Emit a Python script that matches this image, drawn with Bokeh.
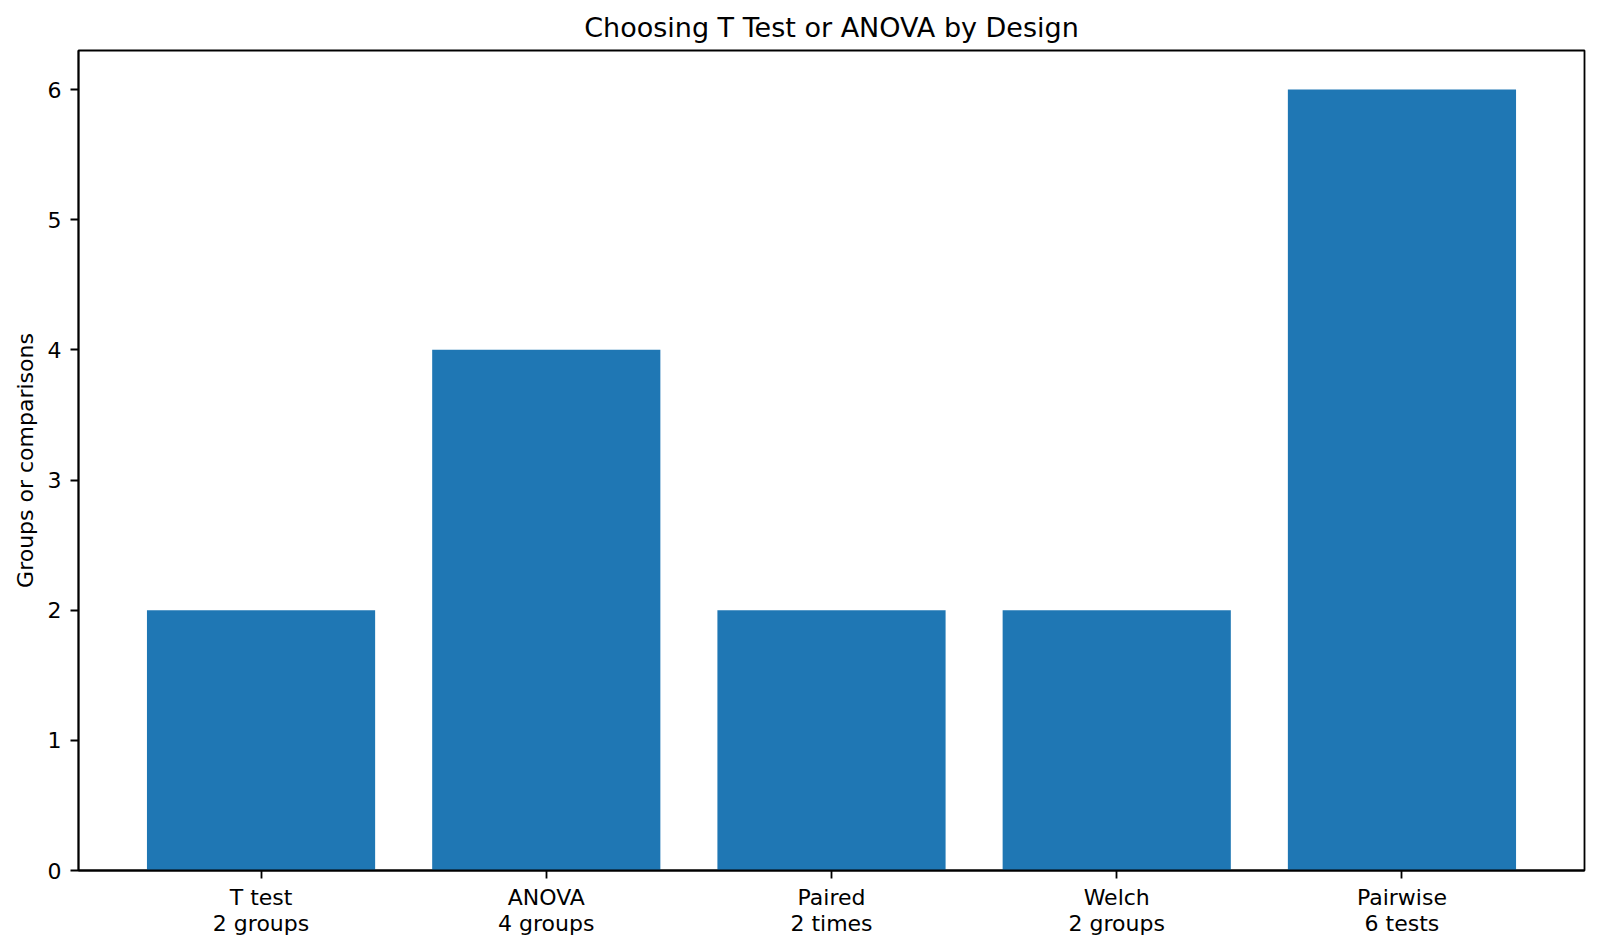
from bokeh.plotting import figure
from bokeh.models import Range1d, FixedTicker, ColumnDataSource
from bokeh.embed import file_html
from bokeh.resources import INLINE

categories = ["T test\n2 groups", "ANOVA\n4 groups", "Paired\n2 times", "Welch\n2 groups", "Pairwise\n6 tests"]
values = [2, 4, 2, 2, 6]
y_ticks = [0, 1, 2, 3, 4, 5, 6]

xs = list(range(len(categories)))
src = ColumnDataSource(dict(x=xs, top=values))

FONT = "DejaVu Sans"

p = figure(width=1600, height=951, output_backend="svg", toolbar_location=None,
           x_range=Range1d(-0.64, len(categories) - 1 + 0.64), y_range=Range1d(0, 6.3),
           min_border_left=78, min_border_right=16, min_border_top=50, min_border_bottom=81,
           title="Choosing T Test or ANOVA by Design")

p.vbar(x="x", top="top", width=0.8, source=src, fill_color="#1f77b4", line_color=None)

p.title.align = "center"
p.title.text_font = FONT
p.title.text_font_size = "27px"
p.title.text_font_style = "normal"
p.title.text_color = "black"
p.title.standoff = 15

p.xgrid.visible = False
p.ygrid.visible = False
p.outline_line_color = "black"
p.outline_line_width = 1.8
p.background_fill_color = "white"
p.border_fill_color = "white"

p.xaxis.ticker = FixedTicker(ticks=xs)
p.xaxis.major_label_overrides = {i: c for i, c in enumerate(categories)}
p.yaxis.ticker = FixedTicker(ticks=y_ticks)
p.yaxis.axis_label = "Groups or comparisons"

for ax in (p.xaxis[0], p.yaxis[0]):
    ax.axis_line_color = "black"
    ax.axis_line_width = 1.8
    ax.major_tick_line_color = "black"
    ax.major_tick_line_width = 1.8
    ax.major_tick_in = 0
    ax.major_tick_out = 8
    ax.minor_tick_line_color = None
    ax.major_label_text_font = FONT
    ax.major_label_text_font_size = "22px"
    ax.major_label_text_color = "black"
    ax.major_label_text_line_height = 1.05
    ax.major_label_standoff = 6
    ax.axis_label_text_font = FONT
    ax.axis_label_text_font_size = "22px"
    ax.axis_label_text_font_style = "normal"
    ax.axis_label_text_color = "black"

p.yaxis.major_label_standoff = 9
p.yaxis.axis_label_standoff = 7

open("out.html", "w").write(file_html(p, INLINE))
